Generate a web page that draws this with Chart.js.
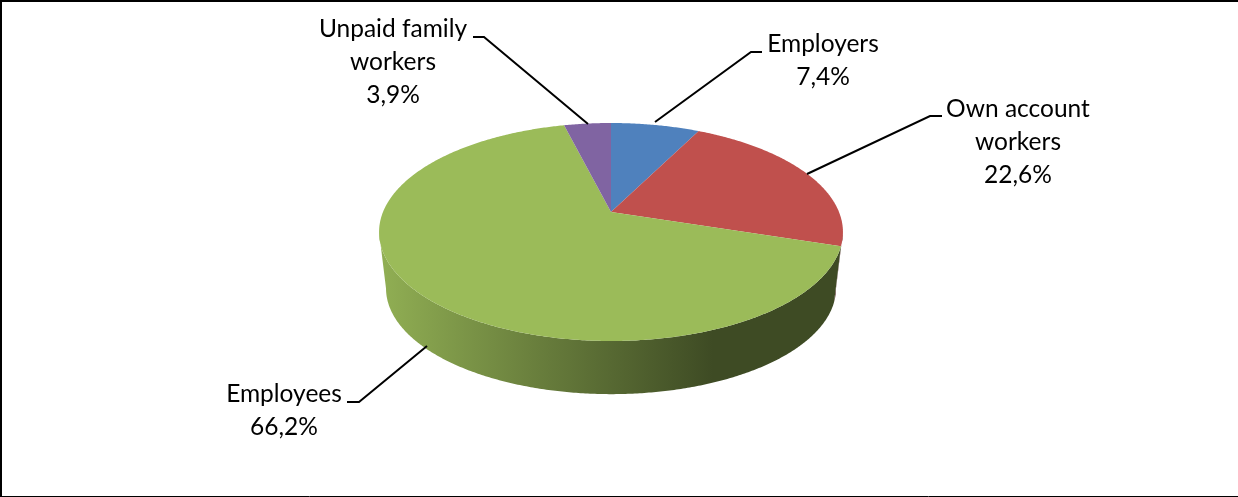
<!DOCTYPE html>
<html lang="en">
<head>
    <meta charset="UTF-8">
    <title>Employment status</title>
    <script src="https://cdn.jsdelivr.net/npm/chart.js"></script>
    <style>
        html, body { margin: 0; padding: 0; background: #fff; }
        canvas { display: block; }
    </style>
</head>
<body>
    <canvas id="myChart" width="1238" height="497"></canvas>

    <script>
        var categories = ['Employers', ['Own account', 'workers'], 'Employees', ['Unpaid family', 'workers']];
        var shares = [7.4, 22.6, 66.2, 3.9];
        var sliceColors = ['#4F81BD', '#C0504D', '#9BBB59', '#8064A2'];

        // label centre x, first baseline y, and the leader line running to the slice
        var labelSpots = [
            { x: 823, y: 52, leader: [[762, 52], [751, 52], [655, 122]] },
            { x: 1018, y: 117, leader: [[942, 116], [930, 116], [807, 174]] },
            { x: 284, y: 402, leader: [[347, 402], [359, 402], [427, 346]] },
            { x: 393, y: 37, leader: [[473, 37], [484, 37], [588, 124]] }
        ];

        var lineGap = 33;
        var labelFont = '24.5px Lato, "Liberation Sans", sans-serif';

        // perspective of the disc: far edge shrinks, near edge grows
        var persp = 0.1835;
        var tilt = 0.462;
        var depth = 57;
        var bottomScale = 0.97;

        function project(el, angle, scale, drop) {
            var u = Math.cos(angle);
            var v = -Math.sin(angle);
            var w = 1 + persp * v;
            return [
                el.x + scale * el.outerRadius * u / w,
                el.y + drop - scale * el.outerRadius * tilt * v / w
            ];
        }

        function shade(hex, f) {
            var n = parseInt(hex.slice(1), 16);
            var r = Math.round(((n >> 16) & 255) * f);
            var g = Math.round(((n >> 8) & 255) * f);
            var b = Math.round((n & 255) * f);
            return 'rgb(' + r + ',' + g + ',' + b + ')';
        }

        // pie is squashed by hand so it reads as a 3D disc, angles still come from the arc elements
        var disc3d = {
            id: 'disc3d',
            beforeDatasetsDraw: function (chart) {
                var ctx = chart.ctx;
                var arcs = chart.getDatasetMeta(0).data;
                var frontStart = Math.asin(persp);
                var frontEnd = Math.PI - frontStart;
                var step = Math.PI / 360;

                arcs.forEach(function (el, i) {
                    var from = Math.max(el.startAngle, frontStart);
                    var to = Math.min(el.endAngle, frontEnd);
                    if (to <= from) return;
                    var left = el.x - el.outerRadius;
                    var grad = ctx.createLinearGradient(left, 0, left + 330, 0);
                    grad.addColorStop(0, shade(sliceColors[i], 0.93));
                    grad.addColorStop(0.5, shade(sliceColors[i], 0.66));
                    grad.addColorStop(1, shade(sliceColors[i], 0.4));
                    ctx.beginPath();
                    var a, p;
                    for (a = from; a < to; a += step) {
                        p = project(el, a, 1, 0);
                        ctx.lineTo(p[0], p[1]);
                    }
                    p = project(el, to, 1, 0);
                    ctx.lineTo(p[0], p[1]);
                    for (a = to; a > from; a -= step) {
                        p = project(el, a, bottomScale, depth);
                        ctx.lineTo(p[0], p[1]);
                    }
                    p = project(el, from, bottomScale, depth);
                    ctx.lineTo(p[0], p[1]);
                    ctx.closePath();
                    ctx.fillStyle = grad;
                    ctx.fill();
                });

                arcs.forEach(function (el, i) {
                    ctx.beginPath();
                    ctx.moveTo(el.x, el.y);
                    for (var a = el.startAngle; a < el.endAngle; a += step) {
                        var p = project(el, a, 1, 0);
                        ctx.lineTo(p[0], p[1]);
                    }
                    var last = project(el, el.endAngle, 1, 0);
                    ctx.lineTo(last[0], last[1]);
                    ctx.closePath();
                    ctx.fillStyle = sliceColors[i];
                    ctx.fill();
                });
                // skip the flat pie
                return false;
            },
            afterDraw: function (chart) {
                var ctx = chart.ctx;
                ctx.save();

                // frame: no line on the right side, thin one at the bottom
                ctx.strokeStyle = '#000';
                ctx.lineWidth = 1;
                ctx.beginPath();
                ctx.moveTo(0, 496.5);
                ctx.lineTo(1238, 496.5);
                ctx.stroke();
                ctx.lineWidth = 2;
                ctx.beginPath();
                ctx.moveTo(1238, 1);
                ctx.lineTo(1, 1);
                ctx.lineTo(1, 497);
                ctx.stroke();

                ctx.font = labelFont;
                ctx.textAlign = 'center';
                ctx.textBaseline = 'alphabetic';
                ctx.fillStyle = '#000';
                labelSpots.forEach(function (spot, i) {
                    ctx.beginPath();
                    spot.leader.forEach(function (pt, k) {
                        if (k == 0) ctx.moveTo(pt[0], pt[1]);
                        else ctx.lineTo(pt[0], pt[1]);
                    });
                    ctx.stroke();

                    var lines = [].concat(categories[i]);
                    lines.push(shares[i].toFixed(1).replace('.', ',') + '%');
                    lines.forEach(function (txt, k) {
                        ctx.fillText(txt, spot.x, spot.y + k * lineGap);
                    });
                });
                ctx.restore();
            }
        };

        new Chart(document.getElementById('myChart').getContext('2d'), {
            type: 'pie',
            data: {
                labels: categories,
                datasets: [{
                    data: shares,
                    backgroundColor: sliceColors,
                    borderWidth: 0,
                    radius: 228
                }]
            },
            options: {
                responsive: false,
                animation: false,
                // puts the pie centre where the slices meet
                layout: { padding: { left: 0, right: 16, top: 0, bottom: 73 } },
                plugins: {
                    legend: { display: false },
                    tooltip: { enabled: false }
                }
            },
            plugins: [disc3d]
        });
    </script>
</body>
</html>
